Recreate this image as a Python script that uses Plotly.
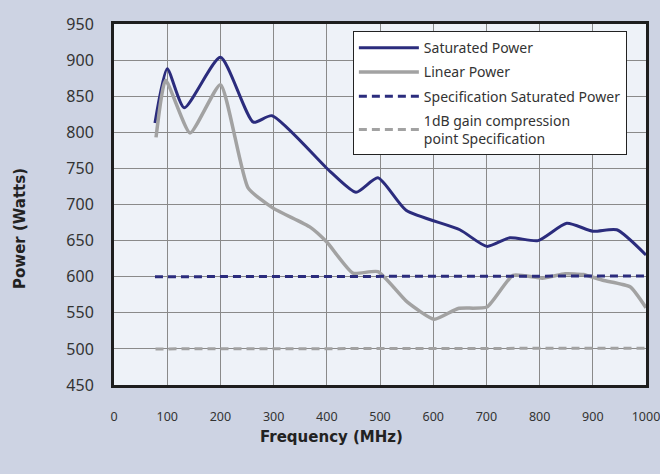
import plotly.graph_objects as go

# Frequency (MHz) and power (Watts)
sat_freq = [77, 100, 132, 200, 262, 297, 406, 455, 496, 549, 650, 701, 744, 797, 851, 900, 945, 1000]
sat_power = [813, 888, 834, 904, 814, 823, 746, 717, 737, 692, 665, 642, 654, 650, 674, 663, 665, 630]

lin_freq = [79, 97, 143, 200, 252, 299, 368, 400, 449, 496, 551, 602, 647, 701, 750, 805, 848, 882, 919, 970, 1000]
lin_power = [793, 872, 799, 866, 723, 695, 669, 648, 605, 607, 565, 541, 556, 558, 602, 598, 604, 603, 595, 586, 557]

spec_freq = [77, 1000]
spec_sat_power = [600, 601]
spec_1db_freq = [78, 1000]
spec_1db_power = [500, 501]

x_ticks = [0, 100, 200, 300, 400, 500, 600, 700, 800, 900, 1000]
y_ticks = [450, 500, 550, 600, 650, 700, 750, 800, 850, 900, 950]

NAVY = "#2B2C7D"
GRAY = "#A2A2A2"

fig = go.Figure()
fig.add_trace(go.Scatter(x=sat_freq, y=sat_power, mode="lines", name="Saturated Power",
                         line=dict(color=NAVY, width=3, shape="spline", smoothing=0.6),
                         legendgroup="a"))
fig.add_trace(go.Scatter(x=lin_freq, y=lin_power, mode="lines", name="Linear Power",
                         line=dict(color=GRAY, width=3.5, shape="spline", smoothing=0.5),
                         legendgroup="b"))
fig.add_trace(go.Scatter(x=spec_freq, y=spec_sat_power, mode="lines", name="Specification Saturated Power",
                         line=dict(color=NAVY, width=3, dash="8px,5px"),
                         legendgroup="c"))
fig.add_trace(go.Scatter(x=spec_1db_freq, y=spec_1db_power, mode="lines",
                         name="1dB gain compression<br>point Specification",
                         line=dict(color=GRAY, width=3, dash="8px,5px"),
                         legendgroup="d"))

tick_font = dict(family="Noto Sans, Open Sans, sans-serif", color="#333333")

fig.update_layout(
    width=660, height=474,
    margin=dict(l=114, r=14, t=24, b=89),
    paper_bgcolor="#CDD3E3",
    plot_bgcolor="#EEF2F8",
    showlegend=True,
    legend=dict(
        x=0.449, y=0.98, xanchor="left", yanchor="top",
        bgcolor="#FFFFFF", bordercolor="#222222", borderwidth=1,
        font=dict(family="Noto Sans, Open Sans, sans-serif", size=14, color="#333333"),
        tracegroupgap=3, itemwidth=60,
    ),
    xaxis=dict(
        range=[0, 1000], tickvals=x_ticks, ticktext=[str(v) for v in x_ticks],
        showgrid=True, gridcolor="#8A8A8A", gridwidth=1,
        showline=True, linecolor="#1E1E1E", linewidth=3, mirror=True,
        ticks="outside", ticklen=18, tickcolor="rgba(0,0,0,0)",
        tickfont=dict(size=12.5, **tick_font), zeroline=False,
        ticklabeloverflow="allow", automargin=False,
    ),
    yaxis=dict(
        range=[450, 950], tickvals=y_ticks, ticktext=[str(v) for v in y_ticks],
        showgrid=True, gridcolor="#8A8A8A", gridwidth=1,
        showline=True, linecolor="#1E1E1E", linewidth=3, mirror=True,
        ticks="outside", ticklen=14, tickcolor="rgba(0,0,0,0)",
        tickfont=dict(size=16, **tick_font), zeroline=False,
        ticklabeloverflow="allow", automargin=False,
    ),
    annotations=[
        dict(text="<b>Frequency (MHz)</b>", xref="paper", yref="paper",
             x=(331 - 114) / 532, y=-(437 - 385) / 361, xanchor="center", yanchor="middle",
             showarrow=False, font=dict(family="DejaVu Sans", size=15, color="#222222")),
        dict(text="<b>Power (Watts)</b>", xref="paper", yref="paper",
             x=-(114 - 20) / 532, y=(385 - 229) / 361, xanchor="center", yanchor="middle",
             textangle=-90, showarrow=False,
             font=dict(family="DejaVu Sans", size=15, color="#222222")),
    ],
)

fig.write_html("out.html",
               config={"displayModeBar": False},
               post_script="document.body.style.margin='0';document.body.style.background='#CDD3E3';")
